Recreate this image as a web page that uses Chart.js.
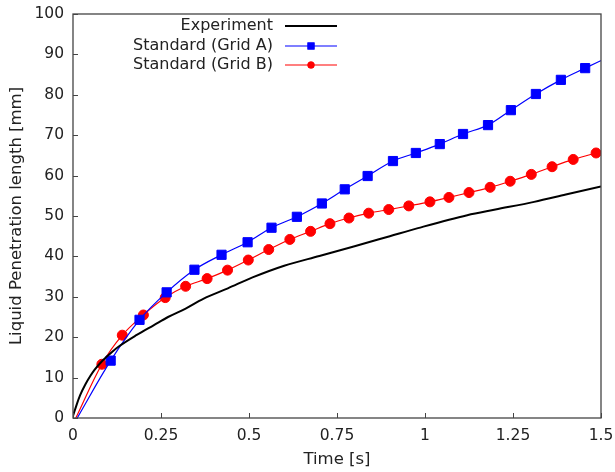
<!DOCTYPE html>
<html>
<head>
<meta charset="utf-8">
<script src="https://cdn.jsdelivr.net/npm/chart.js@4.4.1/dist/chart.umd.min.js"></script>
<style>
  html, body { margin: 0; padding: 0; background: #fff; }
  #wrap { width: 615px; height: 472px; }
</style>
</head>
<body>
<div id="wrap"><canvas id="myChart" width="615" height="472"></canvas></div>
<script>
// measured penetration length
var expTime = [0, 0.01, 0.02, 0.035, 0.05, 0.06, 0.085, 0.11, 0.13, 0.18, 0.23, 0.27, 0.32, 0.37, 0.44, 0.51, 0.6, 0.7, 0.8, 0.9, 0.98, 1.12, 1.2, 1.31, 1.4, 1.5];
var expLen  = [0.5, 3.2, 5.6, 8.3, 10.5, 11.8, 14.3, 16.3, 17.7, 20.5, 23.0, 25.0, 27.1, 29.5, 32.1, 34.8, 37.7, 40.1, 42.5, 45.0, 47.0, 50.2, 51.6, 53.5, 55.3, 57.3];

// standard model, grid A
var timeA = [0.012, 0.107, 0.189, 0.266, 0.345, 0.422, 0.496, 0.564, 0.636, 0.707, 0.772, 0.837, 0.909, 0.974, 1.042, 1.108, 1.179, 1.244, 1.315, 1.386, 1.455, 1.525];
var lenA  = [0, 14.2, 24.3, 31.1, 36.7, 40.4, 43.5, 47.1, 49.8, 53.1, 56.6, 59.9, 63.6, 65.6, 67.8, 70.3, 72.5, 76.2, 80.2, 83.7, 86.6, 89.5];

// standard model, grid B
var timeB = [0.008, 0.082, 0.140, 0.200, 0.262, 0.320, 0.381, 0.439, 0.498, 0.556, 0.616, 0.675, 0.730, 0.784, 0.840, 0.897, 0.954, 1.014, 1.068, 1.125, 1.185, 1.242, 1.302, 1.361, 1.421, 1.486, 1.546];
var lenB  = [0, 13.3, 20.5, 25.5, 29.8, 32.6, 34.5, 36.6, 39.1, 41.7, 44.2, 46.2, 48.1, 49.5, 50.7, 51.6, 52.5, 53.5, 54.6, 55.8, 57.1, 58.6, 60.3, 62.2, 64.0, 65.6, 67.3];

var xTicks = [0, 0.25, 0.5, 0.75, 1, 1.25, 1.5];
var yTicks = [0, 10, 20, 30, 40, 50, 60, 70, 80, 90, 100];

var FONT = '"DejaVu Sans", sans-serif';

function pairs(xs, ys) {
  var out = [];
  for (var i = 0; i < xs.length; i++) out.push({x: xs[i], y: ys[i]});
  return out;
}

// no marker on the starting point of the simulated curves
function markerSize(r) {
  return function(ctx) { return ctx.dataIndex === 0 ? 0 : r; };
}

// keep the plot box where the layout padding puts it
function noOverhang(s) {
  s.paddingLeft = 0; s.paddingRight = 0;
  s.paddingTop = 0; s.paddingBottom = 0;
}

// box around the plot, inward ticks and the legend in the top corner
var frame = {
  id: 'frame',
  afterDatasetsDraw: function(chart) {
    var ctx = chart.ctx, a = chart.chartArea;
    var xs = chart.scales.x, ys = chart.scales.y;
    ctx.save();
    ctx.strokeStyle = '#444';
    ctx.lineWidth = 1.3;
    ctx.strokeRect(a.left, a.top, a.right - a.left, a.bottom - a.top);
    ctx.lineWidth = 1;
    ctx.beginPath();
    xTicks.forEach(function(v) {
      var px = Math.round(xs.getPixelForValue(v)) + 0.5;
      ctx.moveTo(px, a.bottom); ctx.lineTo(px, a.bottom - 5);
    });
    yTicks.forEach(function(v) {
      var py = Math.round(ys.getPixelForValue(v)) + 0.5;
      ctx.moveTo(a.left, py); ctx.lineTo(a.left + 5, py);
    });
    ctx.stroke();

    ctx.font = '16px ' + FONT;
    ctx.textAlign = 'right';
    ctx.textBaseline = 'middle';
    var rows = [26, 46, 65];
    chart.data.datasets.forEach(function(ds, i) {
      var y = rows[i];
      ctx.fillStyle = '#222';
      ctx.fillText(ds.label, 273, y);
      ctx.strokeStyle = ds.borderColor;
      ctx.lineWidth = ds.borderWidth;
      ctx.beginPath();
      ctx.moveTo(285, y); ctx.lineTo(337, y);
      ctx.stroke();
      if (ds.pointStyle) {
        ctx.fillStyle = ds.borderColor;
        Chart.helpers.drawPoint(ctx, {pointStyle: ds.pointStyle, radius: ds.legendRadius, borderWidth: 0, rotation: 0}, 311, y);
        ctx.fill();
      }
    });
    ctx.restore();
  }
};

var canvas = document.getElementById('myChart').getContext('2d');
var myChart = new Chart(canvas, {
  type: 'scatter',
  data: {
    datasets: [
      {
        label: 'Experiment',
        data: pairs(expTime, expLen),
        showLine: true,
        borderColor: '#000000',
        borderWidth: 2,
        pointRadius: 0,
        pointStyle: false,
        cubicInterpolationMode: 'monotone',
        clip: 0
      },
      {
        label: 'Standard (Grid A)',
        data: pairs(timeA, lenA),
        showLine: true,
        borderColor: '#0000ff',
        backgroundColor: '#0000ff',
        borderWidth: 1.2,
        pointStyle: 'rect',
        pointRadius: markerSize(6.5),
        pointBorderWidth: 1,
        legendRadius: 5,
        tension: 0.35,
        clip: 0
      },
      {
        label: 'Standard (Grid B)',
        data: pairs(timeB, lenB),
        showLine: true,
        borderColor: '#ff0000',
        backgroundColor: '#ff0000',
        borderWidth: 1.2,
        pointStyle: 'circle',
        pointRadius: markerSize(5),
        pointBorderWidth: 1,
        legendRadius: 3.5,
        tension: 0.35,
        clip: 0
      }
    ]
  },
  options: {
    responsive: false,
    animation: false,
    events: [],
    layout: { padding: { top: 14, right: 14, left: 0, bottom: 0 } },
    plugins: {
      legend: { display: false },
      tooltip: { enabled: false }
    },
    scales: {
      x: {
        type: 'linear',
        min: 0,
        max: 1.5,
        afterFit: function(s) { s.height = 54; noOverhang(s); },
        afterBuildTicks: function(s) { s.ticks = xTicks.map(function(v) { return {value: v}; }); },
        grid: { display: false, drawTicks: false },
        border: { display: false },
        ticks: {
          padding: 9,
          color: '#222',
          font: { family: FONT, size: 15.5 },
          maxRotation: 0,
          callback: function(v) { return String(v); }
        },
        title: {
          display: true,
          text: 'Time [s]',
          color: '#222',
          font: { family: FONT, size: 16.5 },
          padding: { top: 0, bottom: 2 }
        }
      },
      y: {
        type: 'linear',
        min: 0,
        max: 100,
        afterFit: function(s) { s.width = 73; noOverhang(s); },
        afterBuildTicks: function(s) { s.ticks = yTicks.map(function(v) { return {value: v}; }); },
        grid: { display: false, drawTicks: false },
        border: { display: false },
        ticks: {
          padding: 9,
          color: '#222',
          font: { family: FONT, size: 15.5 }
        },
        title: {
          display: true,
          text: 'Liquid Penetration length [mm]',
          color: '#222',
          font: { family: FONT, size: 16.5 },
          padding: { top: 7, bottom: 0 }
        }
      }
    }
  },
  plugins: [frame]
});
</script>
</body>
</html>
